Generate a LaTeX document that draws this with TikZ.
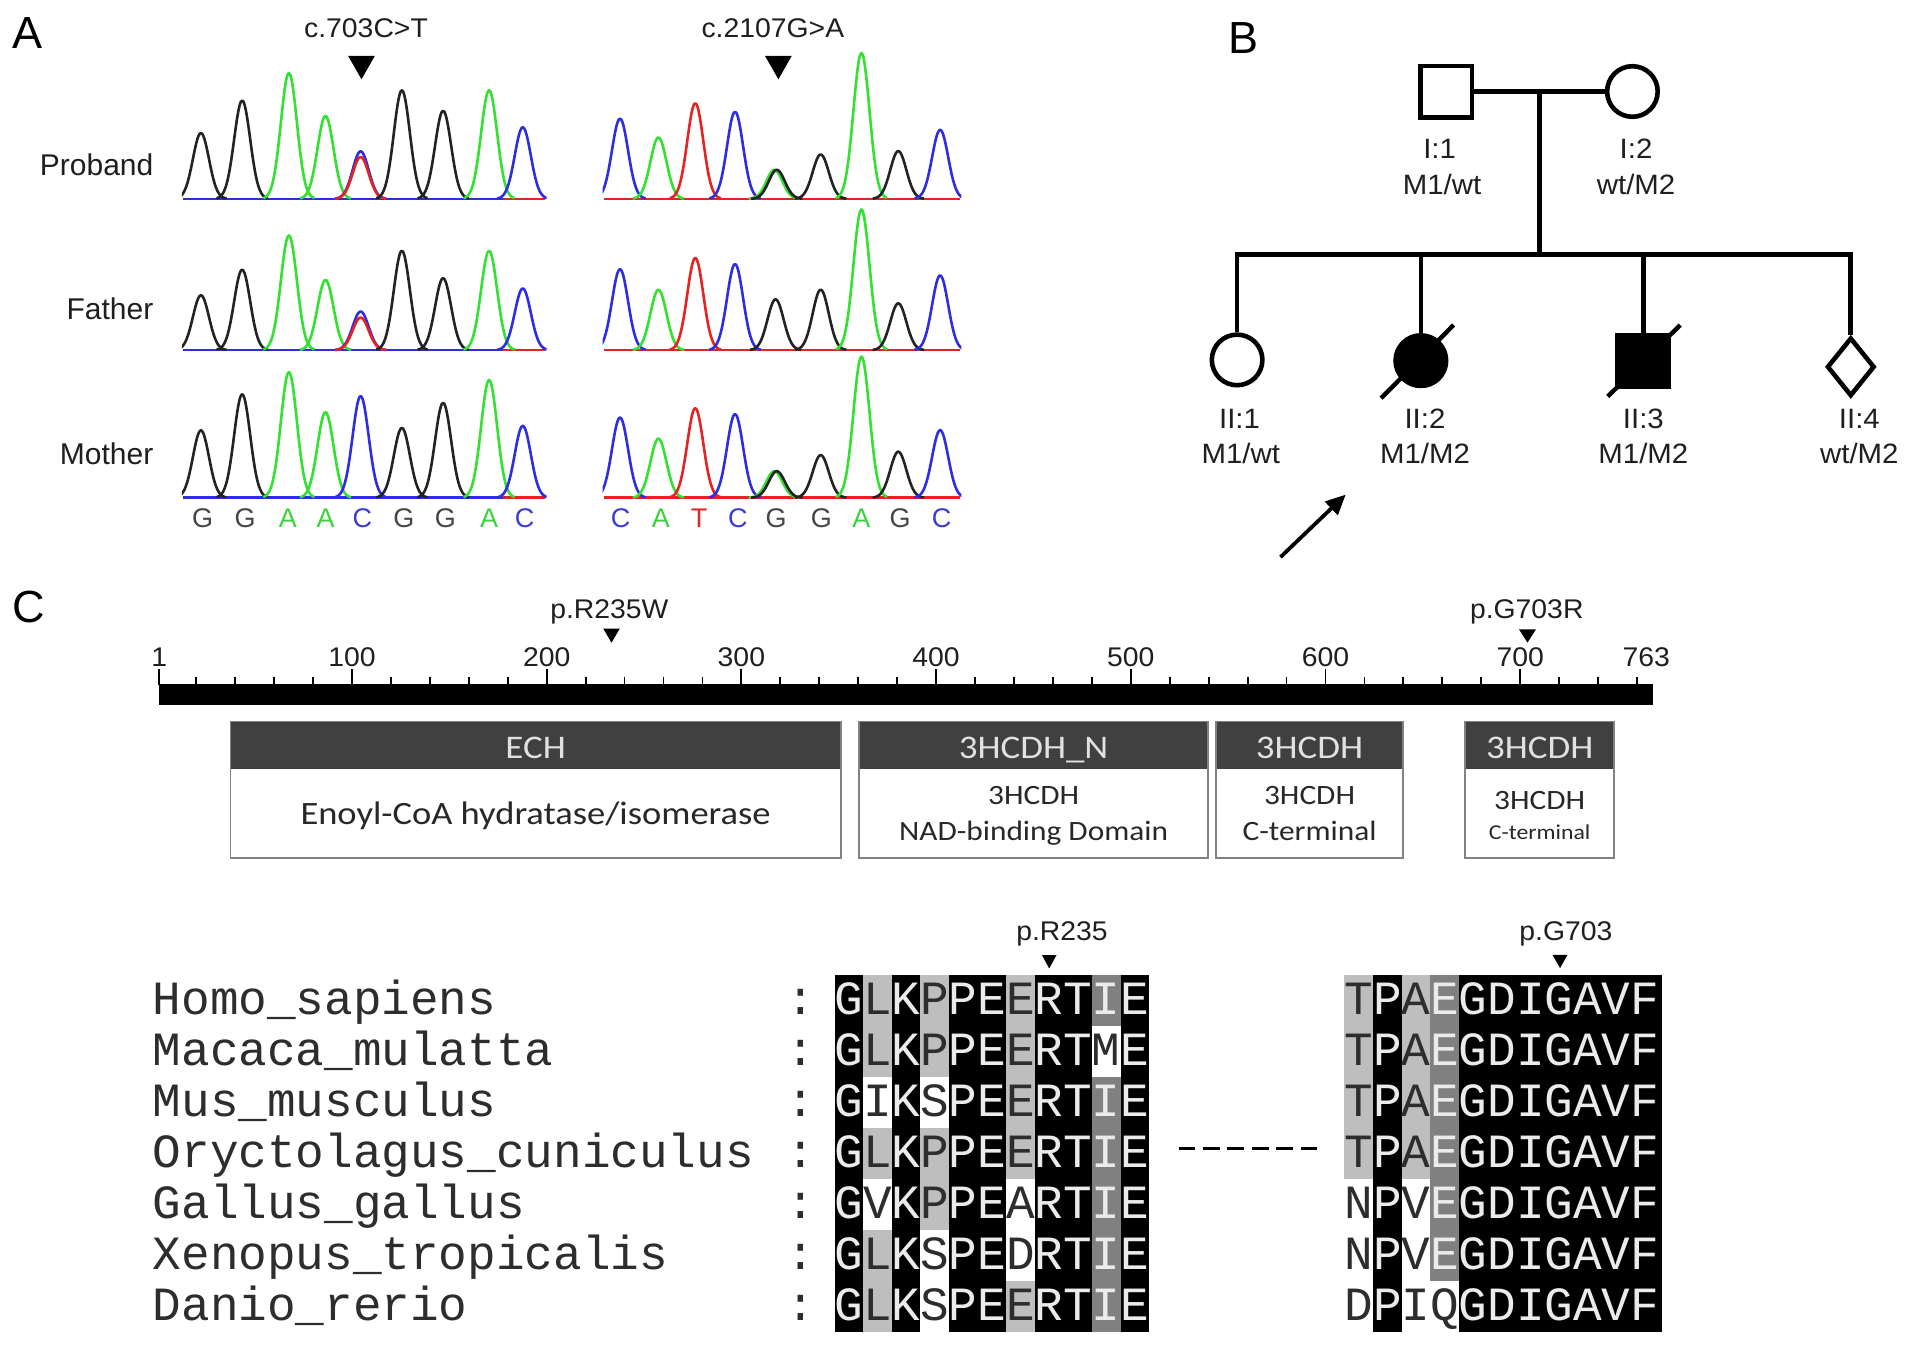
\documentclass[tikz,border=0pt]{standalone}
\usepackage{fontspec}
\setmainfont{Liberation Sans}
\newfontfamily\wsans{Liberation Sans}[FakeStretch=1.05]
\newfontfamily\calib{Carlito}[FakeStretch=1.12]
\newfontfamily\mono{Liberation Mono}
\usetikzlibrary{arrows.meta,shapes.geometric}
\definecolor{trG}{RGB}{35,35,35}
\definecolor{trA}{RGB}{50,225,50}
\definecolor{trC}{RGB}{45,45,225}
\definecolor{trT}{RGB}{230,35,35}
\definecolor{ltG}{RGB}{70,70,70}
\definecolor{ltA}{RGB}{60,210,60}
\definecolor{ltC}{RGB}{60,60,215}
\definecolor{ltT}{RGB}{220,40,40}
\definecolor{hdr}{RGB}{64,64,64}
\definecolor{hdrtxt}{RGB}{225,225,225}
\definecolor{bodytxt}{RGB}{40,40,40}
\definecolor{boxline}{RGB}{130,130,130}
\definecolor{lg}{RGB}{190,190,190}
\definecolor{mg}{RGB}{128,128,128}
\definecolor{tw}{RGB}{235,235,235}
\definecolor{tk}{RGB}{45,45,45}
\newcommand\pk[4]{%
  \pgfmathsetmacro\pka{#1-21}\pgfmathsetmacro\pkb{#1+21}%
  \draw[trace,color=#4] plot[domain=\pka:\pkb,samples=41,smooth] (\x,{#2-(#2-(#3))*exp(-((\x-(#1))/9.3)^2)});}
\newcommand\cellbg[4]{\fill[#4] ({#1+#2*23.45},{799.3+(#3-1)*41.8}) rectangle ++(23.45,41.8);}
\begin{document}
\begin{tikzpicture}[x=0.61pt,y=-0.61pt,
  trace/.style={line width=1.3pt,line join=round},
  baselet/.style={font=\fontsize{13.5}{13.5}\selectfont,anchor=base,inner sep=0},
  rowlab/.style={font=\fontsize{15}{15}\selectfont,anchor=base east,inner sep=0,text=black!88},
  panel/.style={font=\fontsize{22.5}{22.5}\selectfont,anchor=base west,inner sep=0},
  mutlab/.style={font=\wsans\fontsize{13.5}{13.5}\selectfont,anchor=base,inner sep=0,text=black!88},
  pedlab/.style={font=\wsans\fontsize{14}{14}\selectfont,anchor=base,inner sep=0,text=black!88},
  pedline/.style={line width=2.3pt},
  pedsq/.style={draw,line width=2.3pt,rectangle,minimum size=25.7pt,inner sep=0,fill=white},
  pedci/.style={draw,line width=2.3pt,circle,minimum size=25.3pt,inner sep=0,fill=white},
  peddi/.style={draw,line width=2.3pt,diamond,minimum width=23.8pt,minimum height=29.3pt,inner sep=0,fill=white},
  tick/.style={line width=0.9pt},
  hdrtext/.style={font=\calib\fontsize{16.5}{16.5}\selectfont,text=hdrtxt,anchor=base,inner sep=0},
  bodytext/.style={font=\calib\fontsize{16.3}{16.3}\selectfont,text=bodytxt,anchor=base,inner sep=0},
  bodysmall/.style={font=\calib\fontsize{14}{14}\selectfont,text=bodytxt,anchor=base,inner sep=0},
  bodytiny/.style={font=\calib\fontsize{10.6}{10.6}\selectfont,text=bodytxt,anchor=base,inner sep=0},
  seq/.style={font=\mono\fontsize{23.84}{23.84}\selectfont,anchor=base,inner sep=0},
  species/.style={seq,anchor=base west,text=tk}]
\useasboundingbox[fill=white] (0,0) rectangle (1568,1102);
% ---------------- Panel A ----------------
\node[panel] (lA) at (10,40) {A};
\node[mutlab] (m1) at (300,30.5) {c.703C>T};
\node[mutlab] (m2) at (633.5,30.5) {c.2107G>A};
\fill (285.3,45.7) -- (307.3,45.7) -- (296.3,65) -- cycle;
\fill (627,45.7) -- (649,45.7) -- (638,65) -- cycle;
\node[rowlab] (rp) at (126,144) {Proband};
\node[rowlab] (rf) at (126,262) {Father};
\node[rowlab] (rm) at (126,381) {Mother};
% left chromatograms
\begin{scope}
\clip (149,30) rectangle (448,412);
\foreach \yb in {163,287,408} {
  \draw[trace,color=trC] (150,\yb) -- (447,\yb);
  \draw[trace,color=trT] (412,\yb) -- (447,\yb);
}
\foreach \px/\ph/\pcol in {164.7/109/trG,198.5/82.4/trG,236.8/59.9/trA,266.8/95/trA,295.6/124/trC,295.6/128.7/trT,329.4/74/trG,363.2/90.8/trG,400.9/74/trA,428.5/104.3/trC}
  {\pk{\px}{163}{\ph}{\pcol}}
\foreach \px/\ph/\pcol in {164.7/242/trG,198.5/221/trG,236.8/193/trA,266.8/229.4/trA,295.6/255.3/trC,295.6/260.3/trT,329.4/205.5/trG,363.2/228/trG,400.9/205.5/trA,428.5/236.4/trC}
  {\pk{\px}{287}{\ph}{\pcol}}
\foreach \px/\ph/\pcol in {164.7/352.7/trG,198.5/323.2/trG,236.8/305/trA,266.8/337.8/trA,295.6/324.6/trC,329.4/350.7/trG,363.2/330.2/trG,400.9/311.4/trA,428.5/349/trC}
  {\pk{\px}{408}{\ph}{\pcol}}
\end{scope}
% right chromatograms
\begin{scope}
\clip (494,30) rectangle (788,412);
\foreach \yb in {163,287,408} {
  \draw[trace,color=trT] (495,\yb) -- (787,\yb);
}
\foreach \px/\ph/\pcol in {508.2/97.2/trC,539.7/112.6/trA,569.9/84.6/trT,602.5/91.6/trC,634.7/139.2/trA,636.7/139.2/trG,672.7/126.6/trG,706.1/43.4/trA,736.3/123.8/trG,770.6/106.4/trC}
  {\pk{\px}{163}{\ph}{\pcol}}
\foreach \px/\ph/\pcol in {508.2/220.6/trC,539.7/237.4/trA,569.9/211.4/trT,602.5/216.4/trC,635.7/245.3/trG,672.7/237.4/trG,706.1/171.6/trA,736.3/248.6/trG,770.6/225.7/trC}
  {\pk{\px}{287}{\ph}{\pcol}}
\foreach \px/\ph/\pcol in {508.2/342.2/trC,539.7/359.5/trA,569.9/334.6/trT,602.5/339.4/trC,634.7/386.2/trA,636.7/386.2/trG,672.7/373/trG,706.1/292.3/trA,736.3/370.2/trG,770.6/352.5/trC}
  {\pk{\px}{408}{\ph}{\pcol}}
\end{scope}
% base letters
\foreach \lta/\ltb/\ltc [count=\i] in {166/ltG/G,201/ltG/G,236/ltA/A,267/ltA/A,297/ltC/C,331/ltG/G,365/ltG/G,401/ltA/A,430/ltC/C,
  508.7/ltC/C,541.6/ltA/A,573/ltT/T,604.7/ltC/C,636.2/ltG/G,673.2/ltG/G,706.1/ltA/A,737.7/ltG/G,771.9/ltC/C}
  {\node[baselet,text=\ltb] (bl\i) at (\lta,432) {\ltc};}
% ---------------- Panel B ----------------
\node[panel] (lB) at (1007,44) {B};
\node[pedsq] (i1) at (1185.6,75) {};
\node[pedci] (i2) at (1338,75) {};
\draw[pedline] (i1.east) -- (i2.west);
\coordinate (mate) at (1262,75);
\coordinate (sib) at (1262,208.4);
\draw[pedline] (mate) -- (sib);
\node[pedci] (c1) at (1014,295) {};
\node[pedci,fill=black] (c2) at (1164.6,295.6) {};
\node[pedsq,fill=black] (c3) at (1347,295.6) {};
\node[peddi] (c4) at (1517,300.7) {};
\coordinate (s1) at (1014,208.4);
\coordinate (s2) at (1164.6,208.4);
\coordinate (s3) at (1347,208.4);
\coordinate (s4) at (1517,208.4);
\draw[pedline] (c1.north) -- (s1) -- (s4) -- (c4.north);
\draw[pedline] (s2) -- (c2.north);
\draw[pedline] (s3) -- (c3.north);
\draw[line width=2.2pt] ([shift={(-32.6,30.8)}]c2.center) -- ([shift={(26.8,-29.2)}]c2.center);
\draw[line width=2.2pt] ([shift={(-29.2,29.4)}]c3.center) -- ([shift={(30.2,-29.2)}]c3.center);
\node[pedlab] (i1a) at (1180,130.3) {I:1};
\node[pedlab] (i1b) at (1182,159.5) {M1/wt};
\node[pedlab] (i2a) at (1341,130.3) {I:2};
\node[pedlab] (i2b) at (1341,159.5) {wt/M2};
\node[pedlab] (c1a) at (1016,351) {II:1};
\node[pedlab] (c1b) at (1017,380) {M1/wt};
\node[pedlab] (c2a) at (1168,351) {II:2};
\node[pedlab] (c2b) at (1168,380) {M1/M2};
\node[pedlab] (c3a) at (1347,351) {II:3};
\node[pedlab] (c3b) at (1347,380) {M1/M2};
\node[pedlab] (c4a) at (1524,351) {II:4};
\node[pedlab] (c4b) at (1524,380) {wt/M2};
\coordinate (pa) at (1049.6,456.6);
\coordinate (pb) at (1103,405.4);
\draw[line width=1.9pt,-{Triangle[length=10pt,width=9pt]}] (pa) -- (pb);
% ---------------- Panel C ----------------
\node[panel] (lC) at (10,510) {C};
\node[mutlab] (mr) at (499.5,506.8) {p.R235W};
\fill (494.5,515.3) -- (508,515.3) -- (501.2,526.8) -- cycle;
\node[mutlab] (mg) at (1251.4,506.8) {p.G703R};
\fill (1245,515.8) -- (1259,515.8) -- (1252,526.7) -- cycle;
\fill (130.5,561) rectangle (1355,578);
\foreach \p in {20,40,...,760}
  \draw[tick] ({130.5+(\p-1)*1.5959},554.6) -- ({130.5+(\p-1)*1.5959},561.5);
\foreach \p in {1,100,200,...,700}
  \draw[tick] ({130.5+(\p-1)*1.5959},548.6) -- ({130.5+(\p-1)*1.5959},561.5);
\foreach \p in {1,100,200,...,700}
  \node[mutlab] (n\p) at ({130.5+(\p-1)*1.5959},546) {\p};
\node[mutlab] (n763) at (1349.4,546) {763};
% domain boxes
\foreach \xa/\xb in {189/689,704/990.3,997/1149.7,1201/1323} {
  \fill[white] (\xa,591.4) rectangle (\xb,703.3);
  \fill[hdr] (\xa,591.4) rectangle (\xb,630.5);
  \draw[boxline,line width=0.9pt] (\xa,591.4) rectangle (\xb,703.3);
}
\node[hdrtext] (h1) at (439,621.4) {ECH};
\node[hdrtext] (h2) at (847.2,621.4) {3HCDH\_N};
\node[hdrtext] (h3) at (1073.4,621.4) {3HCDH};
\node[hdrtext] (h4) at (1262,621.4) {3HCDH};
\node[bodytext] (b1) at (439,676) {Enoyl-CoA hydratase/isomerase};
\node[bodysmall] (b2a) at (847.2,659.7) {3HCDH};
\node[bodysmall] (b2b) at (847.2,689) {NAD-binding Domain};
\node[bodysmall] (b3a) at (1073.4,659.7) {3HCDH};
\node[bodysmall] (b3b) at (1073.4,689) {C-terminal};
\node[bodysmall] (b4a) at (1262,663.8) {3HCDH};
\node[bodytiny] (b4b) at (1262,688) {C-terminal};
% ---------------- Alignment ----------------
\node[mutlab] (ar) at (870.5,771) {p.R235};
\fill (854,782.8) -- (866,782.8) -- (860,793.8) -- cycle;
\node[mutlab] (ag) at (1283.5,771) {p.G703};
\fill (1272.5,782.6) -- (1284.8,782.6) -- (1278.7,793.5) -- cycle;
\foreach \nm [count=\r] in {Homo\_sapiens,Macaca\_mulatta,Mus\_musculus,Oryctolagus\_cuniculus,Gallus\_gallus,Xenopus\_tropicalis,Danio\_rerio} {
  \node[species] (sp\r) at (125,{820.2+(\r-1)*41.8+11.5}) {\nm};
  \node[seq,text=tk] (co\r) at (656,{820.2+(\r-1)*41.8+11.5}) {:};
}
% left block backgrounds
\fill[black] (684,799.3) rectangle (942,1092);
\foreach \r in {1,2,4,6,7} {\cellbg{684}{1}{\r}{lg}}
\foreach \r in {3,5} {\cellbg{684}{1}{\r}{white}}
\foreach \r in {1,2,4,5} {\cellbg{684}{3}{\r}{lg}}
\foreach \r in {3,6,7} {\cellbg{684}{3}{\r}{white}}
\foreach \r in {1,2,3,4,7} {\cellbg{684}{6}{\r}{lg}}
\foreach \r in {5,6} {\cellbg{684}{6}{\r}{white}}
\foreach \r in {1,3,4,5,6,7} {\cellbg{684}{9}{\r}{mg}}
\foreach \r in {2} {\cellbg{684}{9}{\r}{white}}
% right block backgrounds
\fill[black] (1102,799.3) rectangle (1362,1092);
\foreach \r in {1,2,3,4} {\cellbg{1102}{0}{\r}{lg}\cellbg{1102}{2}{\r}{lg}}
\foreach \r in {5,6,7} {\cellbg{1102}{0}{\r}{white}\cellbg{1102}{2}{\r}{white}}
\foreach \r in {1,2,3,4,5,6} {\cellbg{1102}{3}{\r}{mg}}
\cellbg{1102}{3}{7}{white}
% left block letters
\foreach \row [count=\r] in {
  {G/w,L/k,K/w,P/k,P/w,E/w,E/k,R/w,T/w,I/w,E/w},
  {G/w,L/k,K/w,P/k,P/w,E/w,E/k,R/w,T/w,M/k,E/w},
  {G/w,I/k,K/w,S/k,P/w,E/w,E/k,R/w,T/w,I/w,E/w},
  {G/w,L/k,K/w,P/k,P/w,E/w,E/k,R/w,T/w,I/w,E/w},
  {G/w,V/k,K/w,P/k,P/w,E/w,A/k,R/w,T/w,I/w,E/w},
  {G/w,L/k,K/w,S/k,P/w,E/w,D/k,R/w,T/w,I/w,E/w},
  {G/w,L/k,K/w,S/k,P/w,E/w,E/k,R/w,T/w,I/w,E/w}} {
  \foreach \ch/\tc [count=\i from 0] in \row
    \node[seq,text=t\tc] (La\r-\i) at ({684+(\i+0.5)*23.45},{820.2+(\r-1)*41.8+11.5}) {\ch};
}
% right block letters
\foreach \row [count=\r] in {
  {T/k,P/w,A/k,E/w,G/w,D/w,I/w,G/w,A/w,V/w,F/w},
  {T/k,P/w,A/k,E/w,G/w,D/w,I/w,G/w,A/w,V/w,F/w},
  {T/k,P/w,A/k,E/w,G/w,D/w,I/w,G/w,A/w,V/w,F/w},
  {T/k,P/w,A/k,E/w,G/w,D/w,I/w,G/w,A/w,V/w,F/w},
  {N/k,P/w,V/k,E/w,G/w,D/w,I/w,G/w,A/w,V/w,F/w},
  {N/k,P/w,V/k,E/w,G/w,D/w,I/w,G/w,A/w,V/w,F/w},
  {D/k,P/w,I/k,Q/k,G/w,D/w,I/w,G/w,A/w,V/w,F/w}} {
  \foreach \ch/\tc [count=\i from 0] in \row
    \node[seq,text=t\tc] (Rb\r-\i) at ({1102+(\i+0.5)*23.45},{820.2+(\r-1)*41.8+11.5}) {\ch};
}
\draw[line width=1.3pt,dash pattern=on 8.4pt off 3.8pt] (966,941.5) -- (1080,941.5);
\end{tikzpicture}
\end{document}
